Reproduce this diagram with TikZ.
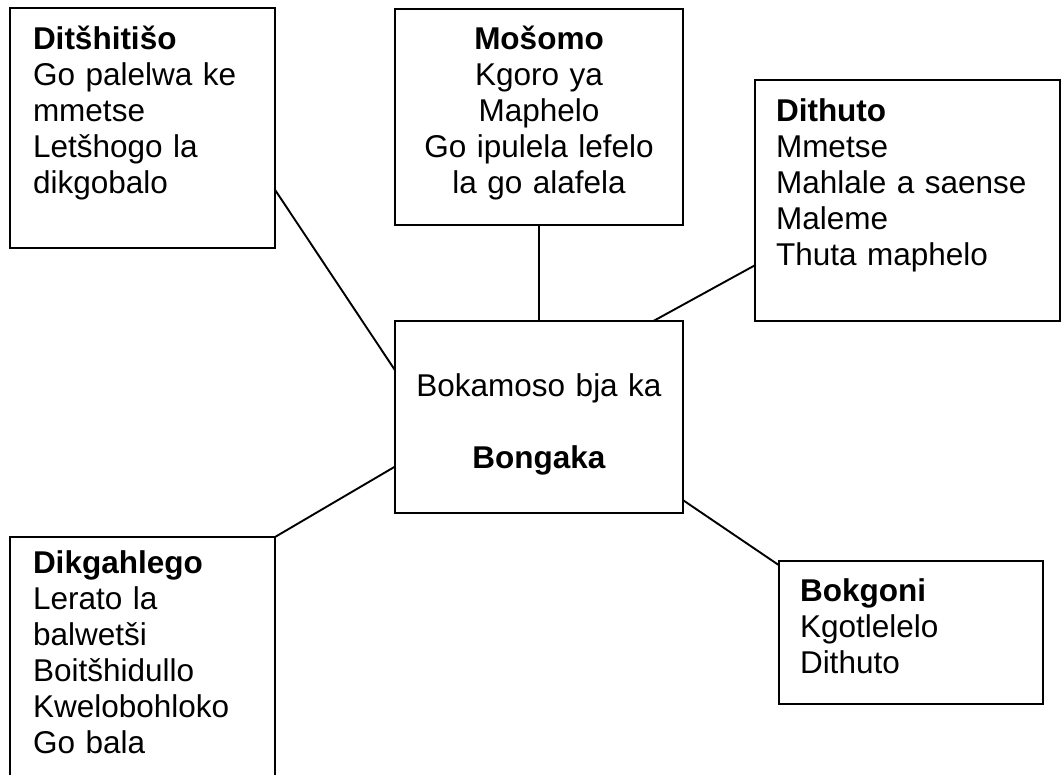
\documentclass[tikz,border=0pt]{standalone}
\usepackage{fontspec}
\setmainfont{Liberation Sans}
\begin{document}
\begin{tikzpicture}[x=1pt, y=-1pt,
    box/.style={draw, line width=2.7pt, anchor=north west, outer sep=0pt, inner ysep=0pt,
      font=\fontsize{31.5}{36}\selectfont},
    link/.style={line width=1.9pt}]
    \useasboundingbox (0, 0) rectangle (1062, 774);
    \clip (0, 0) rectangle (1062, 774);
    \node[box, align=left, inner xsep=23pt, text width=219pt, text height=41pt, text depth=199pt] (b1) at (10, 8)
      {\textbf{Ditšhitišo}\\Go palelwa ke\\mmetse\\Letšhogo la\\dikgobalo};
    \node[box, align=center, inner xsep=14pt, text width=260pt, text height=40pt, text depth=176pt] (b2) at (395, 9)
      {\textbf{Mošomo}\\Kgoro ya\\Maphelo\\Go ipulela lefelo\\la go alafela};
    \node[box, align=left, inner xsep=21pt, text width=263pt, text height=41pt, text depth=200pt] (b3) at (755, 80)
      {\textbf{Dithuto}\\Mmetse\\Mahlale a saense\\Maleme\\Thuta maphelo};
    \node[box, align=center, inner xsep=14pt, text width=260pt, text height=75pt, text depth=117pt] (b0) at (395, 321)
      {Bokamoso bja ka\\[36pt]\textbf{Bongaka}};
    \node[box, align=left, inner xsep=23pt, text width=219pt, text height=36pt, text depth=224pt] (b4) at (10, 537)
      {\textbf{Dikgahlego}\\Lerato la\\balwetši\\Boitšhidullo\\Kwelobohloko\\Go bala};
    \node[box, align=left, inner xsep=21pt, text width=222pt, text height=40pt, text depth=103pt] (b5) at (779, 561)
      {\textbf{Bokgoni}\\Kgotlelelo\\Dithuto};
    \draw[link] (b1.-25) -- (b0.162);
    \draw[link] (b2.south) -- (b0.north);
    \draw[link] (b3.-157.7) -- (b0.40);
    \draw[link] (b4.north east) -- (b0.-161.6);
    \draw[link] (b5.153.5) -- (b0.-30);
\end{tikzpicture}
\end{document}
